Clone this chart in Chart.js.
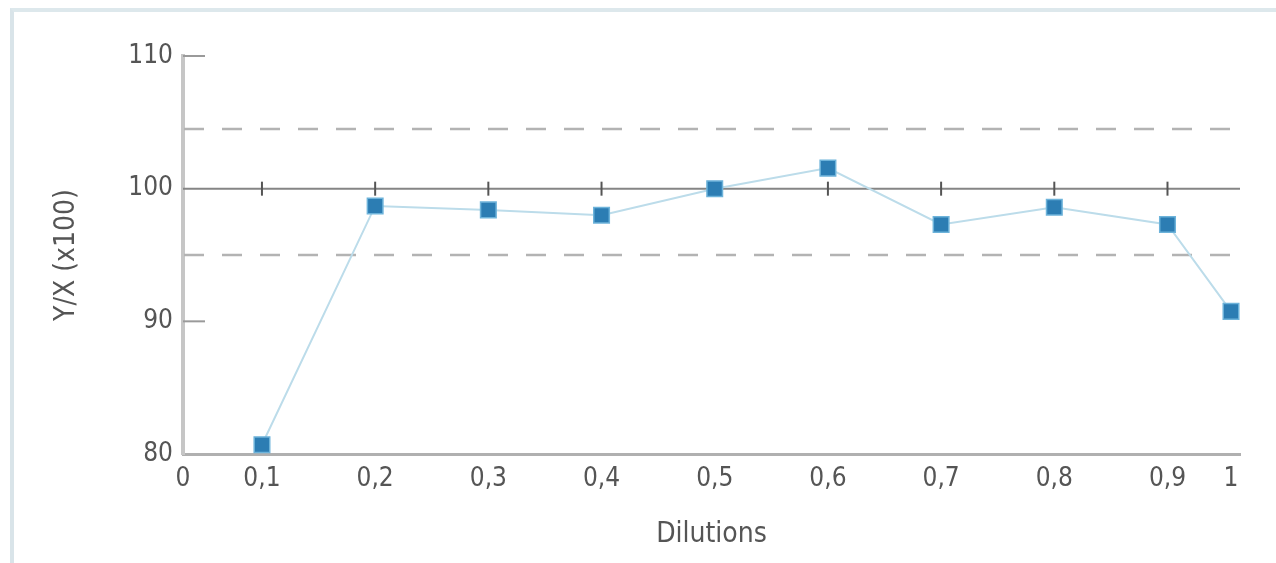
<!DOCTYPE html>
<html>
<head>
<meta charset="utf-8">
<script src="https://cdn.jsdelivr.net/npm/chart.js@4.4.1/dist/chart.umd.min.js"></script>
<style>
  html, body { margin: 0; padding: 0; background: #fff; }
  #wrap { position: relative; width: 1276px; height: 563px; overflow: hidden; }
  #frame { position: absolute; left: 10px; top: 8px; width: 1400px; height: 700px;
           border-left: 4px solid #d9e4e9; border-top: 4px solid #dde8ec; }
  canvas { position: absolute; left: 0; top: 0; }
</style>
</head>
<body>
<div id="wrap">
  <div id="frame"></div>
  <canvas id="chart" width="1276" height="563"></canvas>
</div>
<script>
"use strict"

// dilutions and measured ratio Y/X (x100)
const dilutions = [0.1, 0.2, 0.3, 0.4, 0.5, 0.6, 0.7, 0.8, 0.9, 1];
const ratios = [80.7, 98.7, 98.4, 98.0, 100.0, 101.55, 97.3, 98.6, 97.3, 90.75];

// x axis ticks and their labels
const xTicks = [0, 0.1, 0.2, 0.3, 0.4, 0.5, 0.6, 0.7, 0.8, 0.9, 1];
const xTickLabels = ['0', '0,1', '0,2', '0,3', '0,4', '0,5', '0,6', '0,7', '0,8', '0,9', '1'];
const yTicks = [80, 90, 100, 110];

// reference lines
const target = 100;
const limits = [104.5, 95];

// the axis is squeezed at both ends: value -> fraction of axis length
const axisValues = [0, 0.1, 0.9, 1];
const axisFractions = [0, 0.0747, 0.9314, 0.9915];

class DilutionScale extends Chart.LinearScale {
    getPixelForValue(value) {
        let i = 0;
        while (i < axisValues.length - 2 && value > axisValues[i + 1]) i++;
        const t = (value - axisValues[i]) / (axisValues[i + 1] - axisValues[i]);
        const frac = axisFractions[i] + t * (axisFractions[i + 1] - axisFractions[i]);
        return this.left + frac * this.width;
    }
}
DilutionScale.id = 'dilution';
DilutionScale.defaults = {};
Chart.register(DilutionScale);

const FONT = "'DejaVu Sans Condensed', 'DejaVu Sans', sans-serif";

// draws the 100 line with its little ticks, the dashed limits and inner y ticks
const refLines = {
    id: 'refLines',
    beforeDatasetsDraw(chart) {
        const ctx = chart.ctx;
        const x = chart.scales.x;
        const y = chart.scales.y;
        const left = chart.chartArea.left;
        const right = chart.chartArea.right;
        ctx.save();

        // dashed limits
        ctx.strokeStyle = '#b3b3b3';
        ctx.lineWidth = 2.5;
        ctx.setLineDash([20, 18]);
        limits.forEach(v => {
            const py = y.getPixelForValue(v);
            ctx.beginPath();
            ctx.moveTo(left + 1, py);
            ctx.lineTo(right, py);
            ctx.stroke();
        });
        ctx.setLineDash([]);

        // short inner ticks at 90 and 110
        ctx.strokeStyle = '#9a9a9a';
        ctx.lineWidth = 2;
        yTicks.filter(v => v != target && v != y.min).forEach(v => {
            const py = y.getPixelForValue(v);
            ctx.beginPath();
            ctx.moveTo(left, py);
            ctx.lineTo(left + 22, py);
            ctx.stroke();
        });

        // target line
        const py = y.getPixelForValue(target);
        ctx.strokeStyle = '#858585';
        ctx.lineWidth = 2;
        ctx.beginPath();
        ctx.moveTo(left, py);
        ctx.lineTo(right, py);
        ctx.stroke();

        ctx.strokeStyle = '#555';
        xTicks.slice(1, -1).forEach(v => {
            const px = x.getPixelForValue(v);
            ctx.beginPath();
            ctx.moveTo(px, py - 7);
            ctx.lineTo(px, py + 7);
            ctx.stroke();
        });
        ctx.restore();
    }
};

new Chart(document.getElementById('chart'), {
    type: 'line',
    data: {
        datasets: [{
            data: dilutions.map((d, i) => ({ x: d, y: ratios[i] })),
            borderColor: '#bcdcea',
            borderWidth: 2,
            pointStyle: 'rect',
            pointRadius: 11,
            pointBackgroundColor: '#2c7db3',
            pointBorderColor: '#6db3da',
            pointBorderWidth: 1.5,
            tension: 0
        }]
    },
    options: {
        responsive: false,
        animation: false,
        layout: { padding: { left: 12, top: 56, right: 36, bottom: 3 } },
        plugins: { legend: { display: false }, tooltip: { enabled: false } },
        scales: {
            x: {
                type: 'dilution',
                min: 0,
                max: 1,
                grid: { display: false, drawTicks: false },
                border: { display: true, color: '#b0b0b0', width: 3 },
                afterBuildTicks: scale => { scale.ticks = xTicks.map(v => ({ value: v })); },
                afterFit: scale => { scale.height = 106; },
                ticks: {
                    autoSkip: false,
                    maxRotation: 0,
                    padding: 10,
                    color: '#555',
                    font: { family: FONT, size: 26 },
                    callback: (v, i) => xTickLabels[i]
                },
                title: {
                    display: true,
                    text: 'Dilutions',
                    color: '#555',
                    font: { family: FONT, size: 28 },
                    padding: { top: 4, bottom: 8 }
                }
            },
            y: {
                min: 80,
                max: 110,
                grid: { display: false, drawTicks: false },
                border: { display: true, color: '#c6c6c6', width: 4 },
                afterBuildTicks: scale => { scale.ticks = yTicks.map(v => ({ value: v })); },
                afterFit: scale => { scale.width = 171; },
                ticks: {
                    padding: 10,
                    color: '#555',
                    font: { family: FONT, size: 26 }
                },
                title: {
                    display: true,
                    text: 'Y/X (x100)',
                    color: '#555',
                    font: { family: FONT, size: 28 },
                    padding: { top: 38, bottom: 0 }
                }
            }
        }
    },
    plugins: [refLines]
});
</script>
</body>
</html>
